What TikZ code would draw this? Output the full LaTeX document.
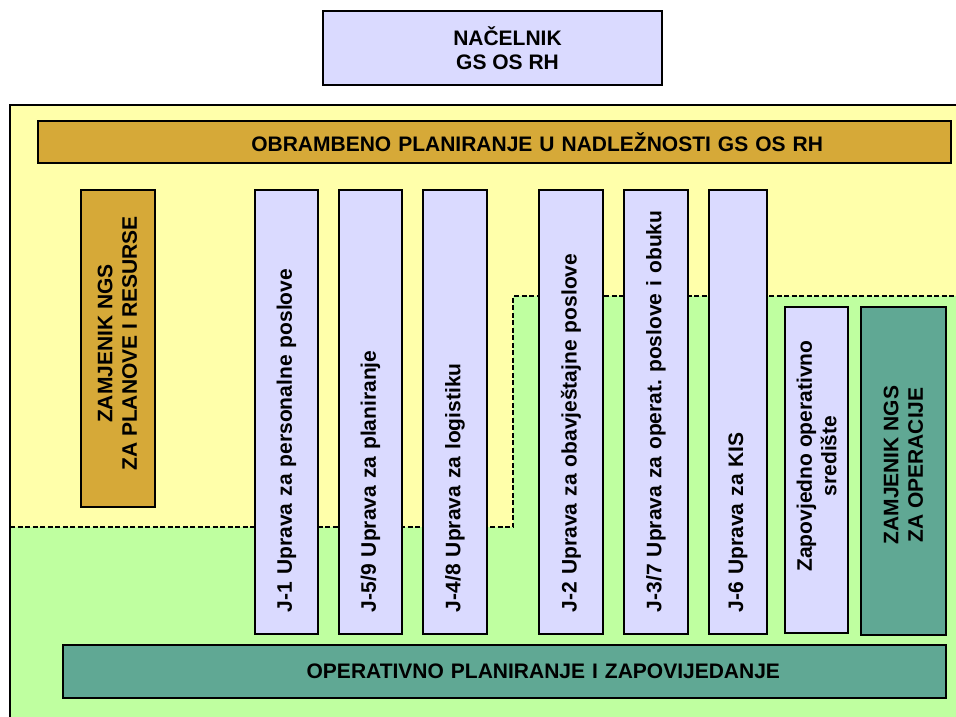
\documentclass[tikz,border=0pt]{standalone}
\usepackage{fontspec}
\setmainfont{Liberation Sans}
\usetikzlibrary{positioning}
\definecolor{lila}{RGB}{218,218,255}
\definecolor{zuta}{RGB}{255,255,170}
\definecolor{zelena}{RGB}{191,255,160}
\definecolor{zlatna}{RGB}{214,169,56}
\definecolor{tirkiz}{RGB}{96,168,148}
\tikzset{
  every picture/.style={
    x=1pt, y=-1pt
  },
  box/.style={
    draw, line width=2pt, inner sep=0pt, align=center,
    font=\bfseries\fontsize{21}{24.5}\selectfont
  },
  lilabox/.style={box, fill=lila},
  zlatnibox/.style={box, fill=zlatna},
  tirkizbox/.style={box, fill=tirkiz},
  uprava/.style={
    lilabox, rotate=90, align=left,
    inner xsep=22pt, text width=400pt
  },
  granica/.style={
    line width=2.6pt, dash pattern=on 5pt off 2.5pt
  }
}

\begin{document}
\begin{tikzpicture}
  \useasboundingbox (0,0) rectangle (956,716);
  % podloga
  \fill[zuta] (10,105) rectangle (962,722);
  \fill[zelena] (10,527) -- (513,527) -- (513,296) -- (962,296) -- (962,722) -- (10,722) -- cycle;
  \draw[line width=2pt] (10,722) -- (10,105) -- (962,105);
  \draw[granica] (10,527) -- (513,527) -- (513,296) -- (962,296);

  \node[lilabox, minimum width=339pt, minimum height=74pt] (nacelnik) at (492.5,48) {\hspace*{30pt}NAČELNIK\\\hspace*{30pt}GS OS RH};
  \node[zlatnibox, minimum width=913pt, minimum height=42pt, text width=657pt, align=right] (obrambeno) at (494.5,142) {OBRAMBENO PLANIRANJE U NADLEŽNOSTI GS OS RH};
  \node[zlatnibox, rotate=90, minimum width=317pt, minimum height=74pt] (zamplan) at (117.5,348.5) {\hspace*{10pt}ZAMJENIK NGS\\\hspace*{10pt}ZA PLANOVE I RESURSE};

  \foreach \x/\w/\ime/\tekst in {
      286.5/63/j1/{J-1 Uprava za personalne poslove},
      370.5/63/j59/{J-5/9 Uprava za planiranje},
      455/64/j48/{J-4/8 Uprava za logistiku},
      571/64/j2/{J-2 Uprava za obavještajne poslove},
      656/64/j37/{J-3/7 Uprava za operat.\ poslove i obuku},
      738/58/j6/{J-6 Uprava za KIS}}
    \node[uprava, minimum height=\w pt] (\ime) at (\x,412) {\mbox{\tekst}};

  \node[lilabox, rotate=90, minimum width=326pt, minimum height=63pt] (zos) at (816.5,470) {\hspace*{28pt}Zapovjedno operativno\\\hspace*{28pt}središte};
  \node[tirkizbox, rotate=90, minimum width=328pt, minimum height=85pt] (zamop) at (903.5,471) {\hspace*{12pt}ZAMJENIK NGS\\\hspace*{12pt}ZA OPERACIJE};
  \node[tirkizbox, minimum width=883pt, minimum height=53pt, text width=551pt, align=right] (operativno) at (504.5,671.5) {OPERATIVNO PLANIRANJE I ZAPOVIJEDANJE};
\end{tikzpicture}
\end{document}
